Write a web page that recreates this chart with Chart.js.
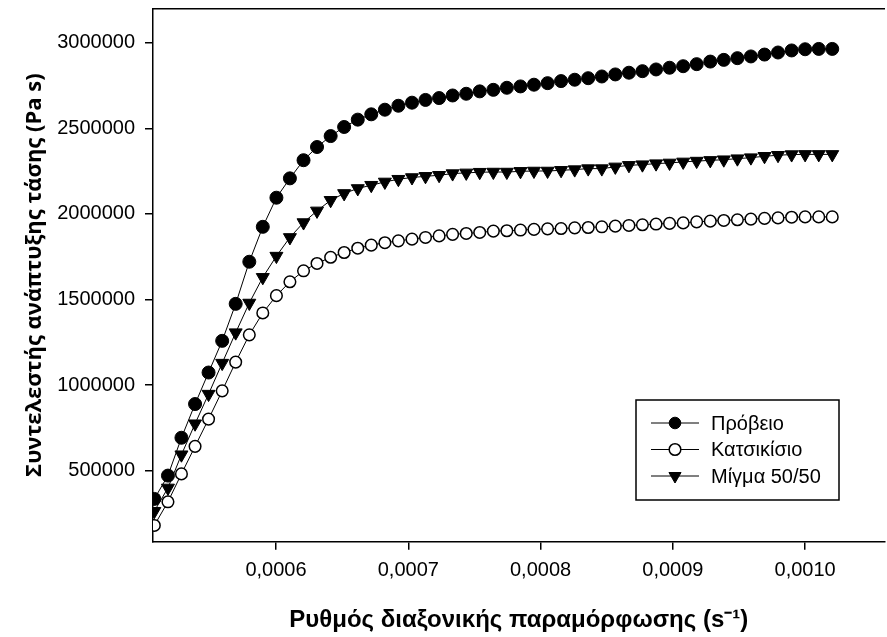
<!DOCTYPE html>
<html>
<head>
<meta charset="utf-8">
<script src="https://cdn.jsdelivr.net/npm/chart.js@4.4.0/dist/chart.umd.min.js"></script>
<style>
  html, body { margin: 0; padding: 0; background: #fff; overflow: hidden; }
  #wrap { width: 893px; height: 637px; }
</style>
</head>
<body>
<div id="wrap"><canvas id="rheo" width="893" height="637"></canvas></div>
<script>
// shear rate (s^-1)
const strainRate = [
  0.0005080, 0.0005183, 0.0005285, 0.0005388, 0.0005490, 0.0005593, 0.0005695, 0.0005798, 0.0005900, 0.0006003,
  0.0006105, 0.0006208, 0.0006310, 0.0006413, 0.0006515, 0.0006618, 0.0006720, 0.0006823, 0.0006925, 0.0007028,
  0.0007130, 0.0007233, 0.0007335, 0.0007438, 0.0007540, 0.0007643, 0.0007745, 0.0007848, 0.0007950, 0.0008053,
  0.0008155, 0.0008258, 0.0008360, 0.0008463, 0.0008565, 0.0008668, 0.0008770, 0.0008873, 0.0008975, 0.0009078,
  0.0009180, 0.0009283, 0.0009385, 0.0009488, 0.0009590, 0.0009693, 0.0009795, 0.0009898, 0.0010000, 0.0010103,
  0.0010205
];

const labels = ['Πρόβειο', 'Κατσικίσιο', 'Μίγμα 50/50'];

const sheep = [
  336000, 472000, 693000, 890000, 1074000, 1259000, 1475000, 1721000, 1925000, 2095000,
  2208000, 2314000, 2391000, 2455000, 2508000, 2551000, 2582000, 2609000, 2632000, 2650000,
  2666000, 2677000, 2692000, 2702000, 2716000, 2725000, 2737000, 2745000, 2755000, 2764000,
  2776000, 2784000, 2793000, 2803000, 2815000, 2825000, 2834000, 2844000, 2854000, 2863000,
  2875000, 2890000, 2900000, 2910000, 2920000, 2931000, 2943000, 2955000, 2962000, 2964000,
  2964000
];

const goat = [
  181000, 319000, 482000, 643000, 802000, 967000, 1135000, 1294000, 1422000, 1523000,
  1604000, 1668000, 1711000, 1747000, 1775000, 1800000, 1818000, 1832000, 1843000, 1853000,
  1863000, 1872000, 1881000, 1886000, 1892000, 1900000, 1902000, 1906000, 1910000, 1913000,
  1915000, 1919000, 1921000, 1925000, 1929000, 1933000, 1937000, 1941000, 1945000, 1948000,
  1954000, 1958000, 1962000, 1966000, 1970000, 1974000, 1977000, 1981000, 1983000, 1983000,
  1983000
];

const mix = [
  264000, 400000, 594000, 775000, 948000, 1129000, 1307000, 1480000, 1630000, 1754000,
  1863000, 1950000, 2018000, 2080000, 2120000, 2149000, 2168000, 2187000, 2203000, 2213000,
  2220000, 2226000, 2236000, 2240000, 2244000, 2245000, 2245000, 2249000, 2251000, 2251000,
  2255000, 2259000, 2265000, 2265000, 2275000, 2284000, 2288000, 2294000, 2298000, 2304000,
  2309000, 2313000, 2317000, 2323000, 2329000, 2337000, 2343000, 2347000, 2348000, 2348000,
  2348000
];

const xTicks = [0.0006, 0.0007, 0.0008, 0.0009, 0.0010];
const yTicks = [500000, 1000000, 1500000, 2000000, 2500000, 3000000];

const toPoints = (ys) => strainRate.map((x, i) => ({ x: x, y: ys[i] }));

const sansFont = '"Liberation Sans", Arial, sans-serif';

// legend box drawn inside the plot, like the original
const legendBox = {
  id: 'legendBox',
  afterDraw(chart) {
    const ctx = chart.ctx;
    const box = { x: 636, y: 400, w: 203, h: 100 };
    ctx.save();
    ctx.strokeStyle = '#000';
    ctx.lineWidth = 1.5;
    ctx.strokeRect(box.x, box.y, box.w, box.h);
    ctx.font = '20px ' + sansFont;
    ctx.textBaseline = 'middle';
    ctx.textAlign = 'left';
    chart.data.datasets.forEach((ds, i) => {
      const cy = 423 + i * 26.5;
      ctx.strokeStyle = '#000';
      ctx.lineWidth = 1;
      ctx.beginPath();
      ctx.moveTo(651, cy);
      ctx.lineTo(699, cy);
      ctx.stroke();
      ctx.fillStyle = ds.pointBackgroundColor;
      ctx.strokeStyle = ds.pointBorderColor;
      ctx.lineWidth = ds.pointBorderWidth;
      Chart.helpers.drawPoint(ctx, {
        pointStyle: ds.pointStyle,
        rotation: ds.pointRotation || 0,
        radius: ds.pointStyle === 'triangle' ? 7 : 5.8,
        borderWidth: ds.pointBorderWidth
      }, 675, cy);
      ctx.fillStyle = '#000';
      ctx.fillText(ds.label, 711, cy + 1);
    });
    ctx.restore();
  }
};

new Chart(document.getElementById('rheo').getContext('2d'), {
  type: 'scatter',
  data: {
    datasets: [
      {
        label: labels[0],
        data: toPoints(sheep),
        showLine: true,
        borderColor: '#000',
        borderWidth: 1,
        pointStyle: 'circle',
        pointRadius: 6.5,
        pointBackgroundColor: '#000',
        pointBorderColor: '#000',
        pointBorderWidth: 1,
        xAxisID: 'x'
      },
      {
        label: labels[1],
        data: toPoints(goat),
        showLine: true,
        borderColor: '#000',
        borderWidth: 1,
        pointStyle: 'circle',
        pointRadius: 5.8,
        pointBackgroundColor: '#fff',
        pointBorderColor: '#000',
        pointBorderWidth: 1.5,
        xAxisID: 'x'
      },
      {
        label: labels[2],
        data: toPoints(mix),
        showLine: true,
        borderColor: '#000',
        borderWidth: 1,
        pointStyle: 'triangle',
        pointRotation: 180,
        pointRadius: 7.5,
        pointBackgroundColor: '#000',
        pointBorderColor: '#000',
        pointBorderWidth: 1,
        xAxisID: 'x'
      }
    ]
  },
  options: {
    responsive: false,
    animation: false,
    devicePixelRatio: 1,
    layout: { padding: 0 },
    plugins: {
      legend: { display: false },
      tooltip: { enabled: false }
    },
    scales: {
      x: {
        type: 'linear',
        position: 'bottom',
        min: 0.000507,
        max: 0.00106,
        afterBuildTicks: (scale) => { scale.ticks = xTicks.map(v => ({ value: v })); },
        afterFit: (scale) => { scale.height = 95.3; scale.paddingLeft = 0; scale.paddingRight = 0; },
        ticks: {
          color: '#000',
          padding: 9,
          maxRotation: 0,
          font: { family: sansFont, size: 20 },
          callback: (v) => v.toFixed(4).replace('.', ',')
        },
        grid: { drawOnChartArea: false, drawTicks: true, tickLength: 8, color: '#000', lineWidth: 1.5 },
        border: { display: true, color: '#000', width: 1.5 },
        title: {
          display: true,
          text: 'Ρυθμός διαξονικής παραμόρφωσης (s⁻¹)',
          color: '#000',
          font: { family: sansFont, size: 24, weight: 'bold' },
          padding: { top: 0, bottom: 2 }
        }
      },
      xTop: {
        type: 'linear',
        position: 'top',
        min: 0,
        max: 1,
        afterFit: (scale) => { scale.height = 7.5; },
        ticks: { display: false },
        grid: { display: false, drawTicks: false },
        border: { display: true, color: '#000', width: 1.5 }
      },
      y: {
        type: 'linear',
        position: 'left',
        min: 86000,
        max: 3200000,
        afterBuildTicks: (scale) => { scale.ticks = yTicks.map(v => ({ value: v })); },
        afterFit: (scale) => { scale.width = 153; scale.paddingTop = 0; scale.paddingBottom = 0; },
        ticks: {
          color: '#000',
          padding: 10,
          font: { family: sansFont, size: 20 },
          callback: (v) => String(v)
        },
        grid: { drawOnChartArea: false, drawTicks: true, tickLength: 8, color: '#000', lineWidth: 1.5 },
        border: { display: true, color: '#000', width: 1.5 },
        title: {
          display: true,
          text: 'Συντελεστής ανάπτυξης τάσης (Pa s)',
          color: '#000',
          font: { family: '"Open Sans", "Noto Sans", sans-serif', size: 22, weight: 'bold' },
          padding: { top: 22, bottom: 0 }
        }
      }
    }
  },
  plugins: [legendBox]
});
</script>
</body>
</html>
